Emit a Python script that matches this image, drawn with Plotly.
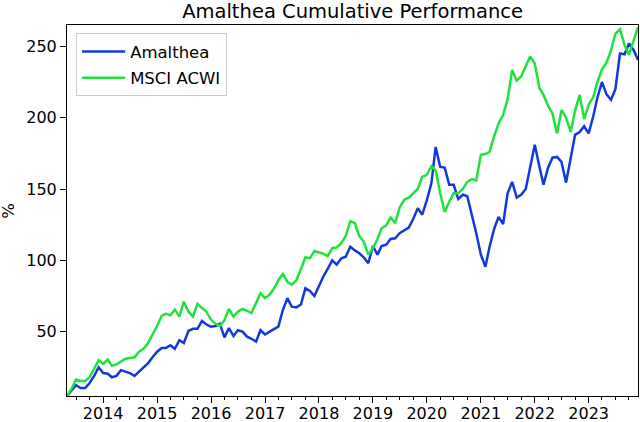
import pandas as pd
import plotly.graph_objects as go

dates = pd.date_range("2013-05-01", "2023-12-01", freq="MS")

amalthea = [
    5, 9, 12.5, 10.5, 10.5, 14, 19, 25, 21, 20.5, 18, 19,
    23, 22, 21, 19, 22, 24.5, 28, 32, 36, 38.5, 38.5, 40.5,
    38, 44, 42, 50.5, 52, 52, 57.5, 55, 53.5, 54, 55.5, 46,
    52.5, 47, 51, 50, 46.5, 45, 43, 51, 48, 50, 51.5, 53.5,
    65, 73.5, 67.5, 67, 69, 80.5, 78.5, 75, 82, 89, 94, 100,
    97, 101.5, 102.5, 109.5, 107, 105, 102, 98, 110, 104, 110, 111,
    115, 115.5, 119, 121, 123, 129, 136.5, 132, 142, 154, 179.5, 165.5,
    165, 153, 153, 143, 146, 145, 132, 119, 104, 95.5, 109.5, 122,
    130.5, 125.5, 147, 155, 144, 146, 150, 165, 181, 166, 153, 165,
    172, 172.5, 169, 154.5, 170.5, 188, 190, 194, 189, 201, 214, 225,
    216.5, 212.5, 220, 245, 244.5, 252, 247.5, 240.5,
]

msci_acwi = [
    5, 10, 16.5, 15.5, 15.5, 18, 24, 30, 27.5, 30.5, 26, 27,
    29, 31, 31.5, 32, 36, 38, 42, 47.5, 54, 61, 62.5, 61.5,
    65.5, 60.5, 71, 64, 60.5, 69.5, 67, 64, 58.5, 55.5, 54, 58,
    66, 60.5, 64, 66, 64.5, 63, 70, 77, 73.5, 76, 80, 86,
    90.5, 85, 83, 86, 94, 102, 101.5, 106.5, 105.5, 104.5, 103, 108.5,
    109, 112, 117, 127.5, 126, 117, 113, 104, 108.5, 115, 122.5, 124.5,
    130, 126, 137, 142.5, 144, 147, 150, 158.5, 160, 166, 163, 147,
    134, 141, 147, 147, 150, 155, 157, 156, 174, 174.5, 176, 187,
    196, 202, 213, 233.5, 226, 229, 236, 243, 238, 221, 216, 208.5,
    203, 189, 205.5, 200, 190, 205, 216, 199, 209, 214.5, 225, 234,
    238.5, 247, 259, 262, 251, 244, 254, 263.5,
]

series_names = ["Amalthea", "MSCI ACWI"]
y_ticks = [50, 100, 150, 200, 250]

fig = go.Figure()
fig.add_trace(go.Scatter(x=dates, y=amalthea, mode="lines", name=series_names[0],
                         legendgroup="a",
                         line=dict(color="#1238e0", width=2.5)))
fig.add_trace(go.Scatter(x=dates, y=msci_acwi, mode="lines", name=series_names[1],
                         legendgroup="b",
                         line=dict(color="#1fe23c", width=2.5)))

font_family = "DejaVu Sans"
fig.update_layout(
    width=640, height=422,
    margin=dict(l=67, r=2, t=25, b=26, autoexpand=False),
    paper_bgcolor="white", plot_bgcolor="white",
    font=dict(family=font_family, size=16, color="black"),
    title=dict(text="Amalthea Cumulative Performance", x=0.551, xanchor="center",
               y=0.973, yanchor="middle", font=dict(size=19.5, family=font_family)),
    showlegend=True,
    legend=dict(x=0.016, y=0.978, xanchor="left", yanchor="top",
                bgcolor="rgba(255,255,255,0.9)", bordercolor="#cccccc", borderwidth=1,
                font=dict(size=16.5, family=font_family), tracegroupgap=2,
                traceorder="grouped", itemwidth=43),
    annotations=[dict(text="%", textangle=-90, xref="paper", yref="paper",
                      x=-0.103, y=0.5, xanchor="center", yanchor="middle",
                      showarrow=False, font=dict(size=16.5, family=font_family))],
)
fig.update_xaxes(
    range=[dates[0], dates[-1]], automargin=False,
    showgrid=False, zeroline=False,
    showline=True, mirror=True, linecolor="black", linewidth=1,
    ticks="outside", ticklen=6, tickcolor="black",
    tick0="2014-01-01", dtick="M12", tickformat="%Y",
    ticklabelstandoff=-3,
    minor=dict(dtick="M3", tick0="2014-01-01", ticks="outside", ticklen=3, tickcolor="black"),
    tickfont=dict(size=16),
)
fig.update_yaxes(
    range=[4.9, 265], automargin=False,
    showgrid=False, zeroline=False,
    showline=True, mirror=True, linecolor="black", linewidth=1,
    ticks="outside", ticklen=6, tickcolor="black",
    tickvals=y_ticks, tickfont=dict(size=16),
)

fig.write_html("out.html", config={"displayModeBar": False},
               post_script="document.body.style.margin='0';document.body.style.overflow='hidden';")
